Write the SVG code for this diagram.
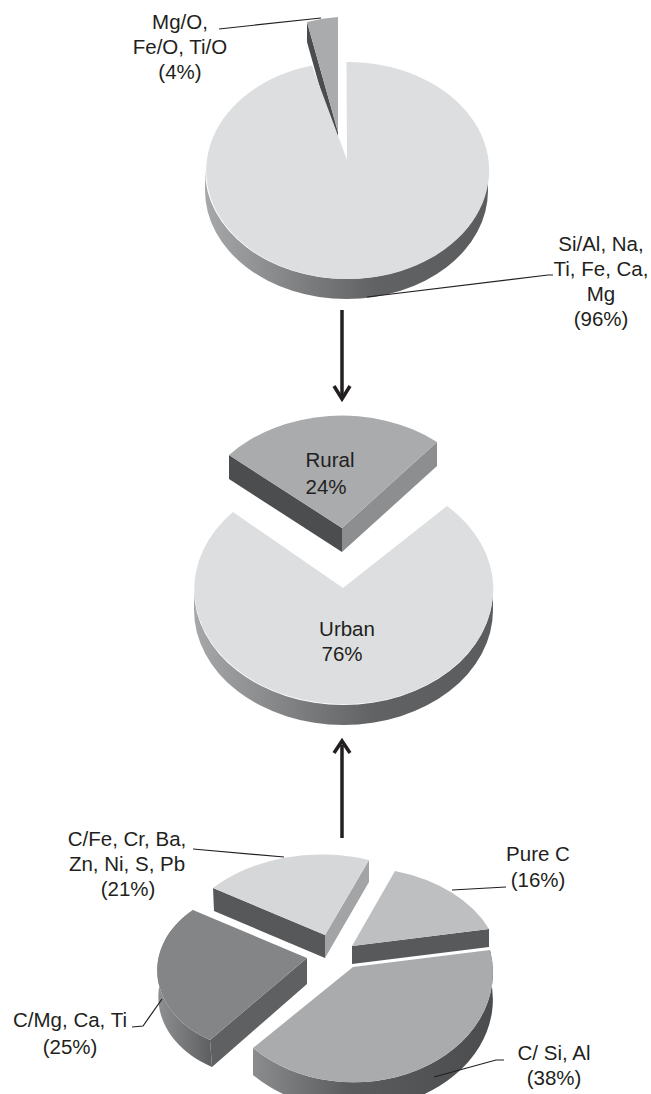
<svg xmlns="http://www.w3.org/2000/svg" width="651" height="1094" viewBox="0 0 651 1094">
<defs>
<linearGradient id="sideGrad" x1="0" y1="0" x2="1" y2="0">
<stop offset="0" stop-color="#a6a8aa"/>
<stop offset="0.35" stop-color="#7c7e80"/>
<stop offset="0.6" stop-color="#606264"/>
<stop offset="1" stop-color="#5a5c5e"/>
</linearGradient>
<linearGradient id="mgGrad" x1="0" y1="0" x2="1" y2="0">
<stop offset="0" stop-color="#8e9092"/>
<stop offset="1" stop-color="#5c5e60"/>
</linearGradient>
<linearGradient id="siGrad" x1="0" y1="0" x2="1" y2="0">
<stop offset="0" stop-color="#8a8c8e"/>
<stop offset="0.4" stop-color="#5a5c5e"/>
<stop offset="1" stop-color="#4a4c4e"/>
</linearGradient>
</defs>
<style>
text{font-family:"Liberation Sans",Arial,sans-serif;font-size:20.5px;fill:#231f20;text-anchor:middle}
.lead{fill:none;stroke:#231f20;stroke-width:1.2}
.arr{fill:none;stroke:#231f20;stroke-width:3.5}
.light{fill:#dcdedf}
.mid{fill:#a9abad}
.dark{fill:#4a4c4e}
</style>
<rect width="651" height="1094" fill="#ffffff"/>

<g id="top-pie">
<g id="top-small-slice">
<path class="dark" d="M307,22 L338,132 L338,152 L307,42 Z"/>
<path class="mid" d="M338,132 L338,17 A141.5,108.5 0 0 0 307,22 Z"/>
</g>
<g id="top-big-slice">
<path fill="url(#sideGrad)" d="M205,170.5 A141.5,108.5 0 0 0 488,170.5 L488,190.5 A141.5,108.5 0 0 1 205,190.5 Z"/>
<path class="light" d="M347,160 L346.5,62 A141.5,108.5 0 1 1 312,65.5 Z"/>
</g>
<g id="label-mgo">
<text x="180" y="29">Mg/O,</text>
<text x="180" y="54">Fe/O, Ti/O</text>
<text x="180" y="79">(4%)</text>
</g>
<g id="label-sial">
<text x="601" y="250.5">Si/Al, Na,</text>
<text x="601" y="275.5">Ti, Fe, Ca,</text>
<text x="601" y="300.5">Mg</text>
<text x="601" y="325.5">(96%)</text>
</g>
</g>

<g id="middle-pie">
<g id="urban">
<path fill="url(#sideGrad)" d="M194,590 A149.5,115 0 0 0 493,590 L493,610 A149.5,115 0 0 1 194,610 Z"/>
<path class="light" d="M343,588 L447,506 A149.5,115 0 1 1 233,512 Z"/>
<text x="347" y="636">Urban</text>
<text x="342" y="661">76%</text>
</g>
<g id="rural">
<path fill="#4b4d4f" d="M229,455 L342,528 L342,552 L229,479 Z"/>
<path fill="#8c8e90" d="M342,528 L437,442 L437,466 L342,552 Z"/>
<path class="mid" d="M342,528 L229,455 A149.5,115 0 0 1 437,442 Z"/>
<text x="330" y="467">Rural</text>
<text x="326" y="494">24%</text>
</g>
</g>

<g id="bottom-pie">
<g id="slice-cfe">
<path fill="#56585a" d="M213,888 L325,935 L325,958 L214,911 Z"/>
<path fill="#a2a4a6" d="M369,860 L369,882 L325,958 L325,935 Z"/>
<path fill="#d6d7d8" d="M325,935 L213,888 A145,100 0 0 1 369,860 Z"/>
<text x="127" y="846">C/Fe, Cr, Ba,</text>
<text x="127" y="871">Zn, Ni, S, Pb</text>
<text x="128" y="896">(21%)</text>
</g>
<g id="slice-purec">
<path fill="#58595b" d="M352,946 L489,929 L489,947 L352,964 Z"/>
<path fill="#bebfc1" d="M352,946 L395,871 A145,100 0 0 1 489,929 Z"/>
<text x="538" y="861">Pure C</text>
<text x="538" y="887">(16%)</text>
</g>
<g id="slice-csi">
<path fill="url(#siGrad)" d="M490,950 A139,110 0 0 1 253,1048 L253,1075 A139,110 0 0 0 490,977 Z"/>
<path fill="#a9abad" d="M353,967 L490,950 A139,110 0 0 1 253,1048 Z"/>
<text x="554" y="1060">C/ Si, Al</text>
<text x="554" y="1085">(38%)</text>
</g>
<g id="slice-cmg">
<path fill="url(#mgGrad)" d="M193,910 A104,80 0 0 0 210,1040 L212,1067 A104,80 0 0 1 195,936 Z"/>
<path fill="#5e6062" d="M307,958 L307,984 L212,1067 L210,1040 Z"/>
<path fill="#838587" d="M307,958 L193,910 A104,80 0 0 0 210,1040 Z"/>
<text x="70" y="1027">C/Mg, Ca, Ti</text>
<text x="70" y="1054">(25%)</text>
</g>
</g>

<g id="connectors">
<line class="arr" x1="342" y1="310" x2="342" y2="396"/>
<polyline class="arr" points="334,386 342,399 350,386"/>
<line class="arr" x1="342" y1="745" x2="342" y2="838"/>
<polyline class="arr" points="334,753 342,741 350,753"/>
<polyline class="lead" points="219,29 321,18"/>
<polyline class="lead" points="367,297 548,275 553,275"/>
<polyline class="lead" points="193,849 284,857"/>
<polyline class="lead" points="452,890 506,887"/>
<polyline class="lead" points="132,1027 143,1026 162,999"/>
<polyline class="lead" points="434,1077 496,1060 504,1060"/>
</g>
</svg>
